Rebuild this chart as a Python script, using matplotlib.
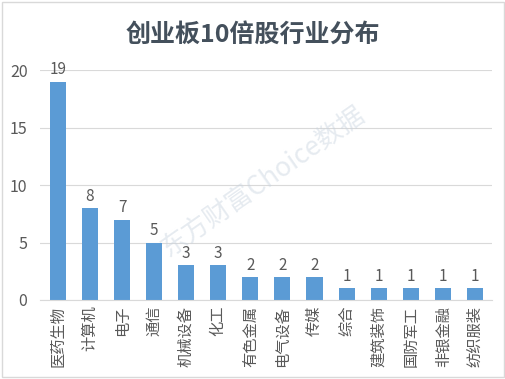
import matplotlib
matplotlib.use('Agg')
import matplotlib.pyplot as plt
from matplotlib.patches import Rectangle

plt.rcParams['font.family'] = ['Noto Sans CJK SC', 'DejaVu Sans']

# 数据
industries = ['医药生物', '计算机', '电子', '通信', '机械设备', '化工', '有色金属',
              '电气设备', '传媒', '综合', '建筑装饰', '国防军工', '非银金融', '纺织服装']
counts = [19, 8, 7, 5, 3, 3, 2, 2, 2, 1, 1, 1, 1, 1]
y_ticks = [0, 5, 10, 15, 20]

TEXT_COLOR = '#595959'
BAR_COLOR = '#5b9bd5'

fig = plt.figure(figsize=(5.06, 3.79), dpi=100)
ax = fig.add_axes([0.079, 0.2085, 0.893, 0.6065])

x = list(range(len(industries)))
ax.bar(x, counts, width=0.5, color=BAR_COLOR, zorder=2)

for xi, v in zip(x, counts):
    ax.text(xi, v + 0.3, str(v), ha='center', va='bottom',
            fontsize=11, color=TEXT_COLOR, fontweight='light')

ax.set_xlim(-0.56, 13.53)
ax.set_ylim(0, 20)
ax.set_yticks(y_ticks)
ax.set_xticks(x)
ax.set_xticklabels(industries, rotation=90, fontsize=11, color=TEXT_COLOR,
                   fontweight='light')
ax.tick_params(axis='y', labelsize=11.5, labelcolor=TEXT_COLOR, length=0, pad=9)
ax.tick_params(axis='x', length=0, pad=4)
for lab in ax.get_yticklabels():
    lab.set_fontweight('light')
ax.grid(axis='y', color='#d9d9d9', linewidth=0.8, zorder=0)
for s in ['top', 'right', 'left']:
    ax.spines[s].set_visible(False)
ax.spines['bottom'].set_color('#d9d9d9')

# 标题
fig.text(0.5, 0.908, '创业板10倍股行业分布', ha='center', va='center',
         fontsize=18, fontweight='bold', color='#44505c')

# 水印
fig.text(0.52, 0.52, '东方财富Choice数据', ha='center', va='center',
         fontsize=19, color='#c8d3df', alpha=0.45, rotation=35, zorder=5)

# 外框
fig.patches.append(Rectangle((0.003, 0.004), 0.994, 0.992, transform=fig.transFigure,
                             fill=False, edgecolor='#d9d9d9', linewidth=1))

fig.savefig('out.png', dpi=100)
